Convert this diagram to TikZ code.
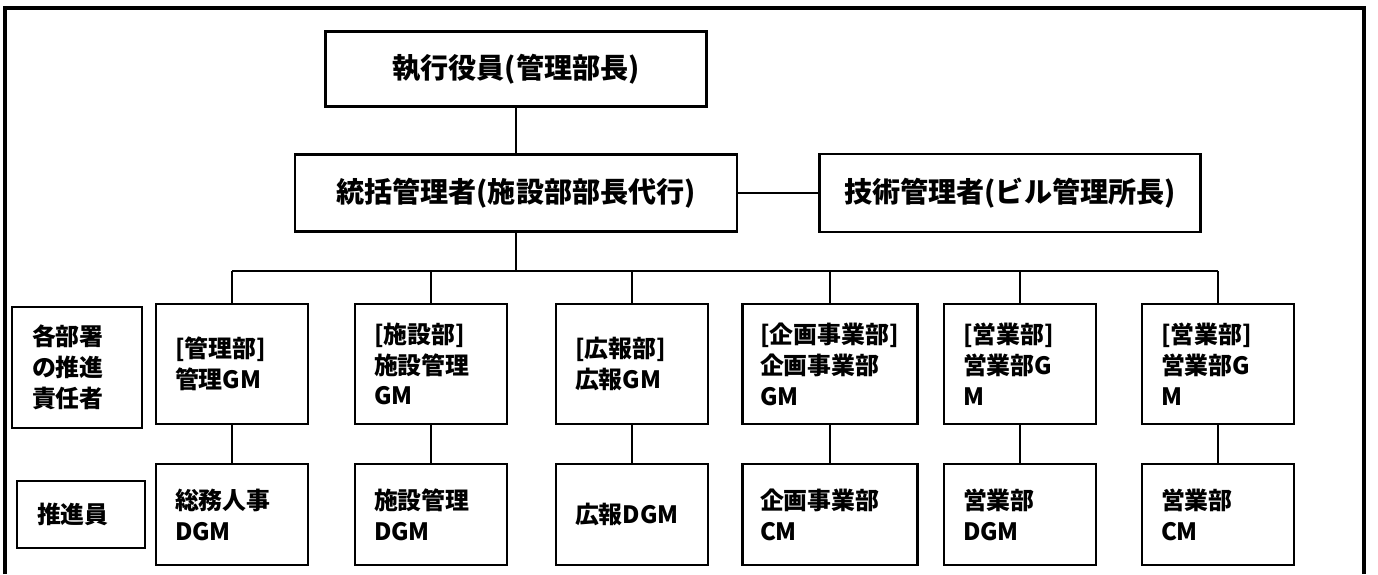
\documentclass[tikz,border=0pt]{standalone}
\usepackage{fontspec}
\setmainfont{Noto Sans CJK JP}
\tikzstyle{box}=[draw,line width=1.3pt,font=\fontsize{13.6}{17.6}\selectfont\bfseries]
\tikzstyle{topbox}=[box,minimum width=7.62cm,minimum height=1.5cm,font=\fontsize{16}{20}\selectfont\bfseries]
\tikzstyle{gmbox}=[box,align=left,text width=2.28cm,inner xsep=0.38cm,minimum height=2.4cm]
\tikzstyle{subbox}=[gmbox,minimum height=2.02cm]
\tikzstyle{labelbox}=[box,align=left,inner xsep=0.4cm]
\tikzstyle{link}=[line width=1.1pt]

\begin{document}
\begin{tikzpicture}[]
\useasboundingbox (0,0) rectangle (27.56,11.48);
% frame
\draw[line width=2pt] (0.1,0) -- (0.1,11.32) -- (27.28,11.32) -- (27.28,0);
% top
\node[topbox] (exec) at (10.32,10.10) {執行役員(管理部長)};
\node[topbox,minimum width=8.84cm,minimum height=1.54cm] (head) at (10.32,7.62) {統括管理者(施設部部長代行)}
    edge[link] (exec);
\node[topbox,minimum height=1.56cm] (tech) at (20.20,7.62) {技術管理者(ビル管理所長)}
    edge[link] (head);
% bus
\coordinate (bus) at (10.32,6.06);
\coordinate (b1) at (4.64,6.06);
\coordinate (b2) at (8.62,6.06);
\coordinate (b3) at (12.64,6.06);
\coordinate (b4) at (16.60,6.06);
\coordinate (b5) at (20.40,6.06);
\coordinate (b6) at (24.36,6.06);
\draw[link] (b1) -- (b6);
\draw[link] (head) -- (bus);
% row labels
\node[labelbox,text width=1.8cm,minimum height=2.42cm] (lab1) at (1.54,4.13) {各部署\\の推進\\責任者};
\node[labelbox,text width=1.76cm,minimum height=1.34cm] (lab2) at (1.62,1.19) {推進員};
% 1st column
\node[gmbox] (gm1) at (4.64,4.20) {[管理部]\\管理GM}
    edge[link] (b1);
\node[subbox] (sub1) at (4.64,1.19) {総務人事\\DGM}
    edge[link] (gm1);
% 2nd column
\node[gmbox] (gm2) at (8.62,4.20) {[施設部]\\施設管理\\GM}
    edge[link] (b2);
\node[subbox] (sub2) at (8.62,1.19) {施設管理\\DGM}
    edge[link] (gm2);
% 3rd column
\node[gmbox] (gm3) at (12.64,4.20) {[広報部]\\広報GM}
    edge[link] (b3);
\node[subbox] (sub3) at (12.64,1.19) {広報DGM}
    edge[link] (gm3);
% 4th column
\node[gmbox,text width=2.8cm,inner xsep=0.35cm] (gm4) at (16.60,4.20) {[企画事業部]\\企画事業部\\GM}
    edge[link] (b4);
\node[subbox,text width=2.8cm,inner xsep=0.35cm] (sub4) at (16.60,1.19) {企画事業部\\CM}
    edge[link] (gm4);
% 5th column
\node[gmbox] (gm5) at (20.40,4.20) {[営業部]\\営業部G\\M}
    edge[link] (b5);
\node[subbox] (sub5) at (20.40,1.19) {営業部\\DGM}
    edge[link] (gm5);
% 6th column
\node[gmbox] (gm6) at (24.36,4.20) {[営業部]\\営業部G\\M}
    edge[link] (b6);
\node[subbox] (sub6) at (24.36,1.19) {営業部\\CM}
    edge[link] (gm6);
\end{tikzpicture}
\end{document}
